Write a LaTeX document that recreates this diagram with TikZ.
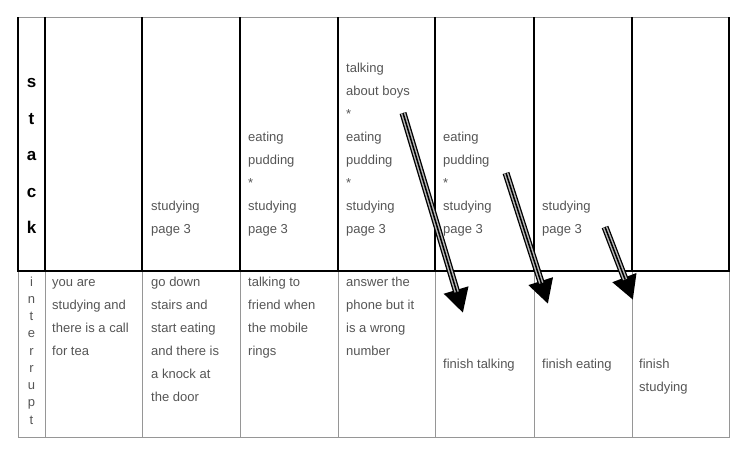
\documentclass[tikz,border=0pt]{standalone}
\usepackage{fontspec}
\setmainfont{Liberation Sans}
\usetikzlibrary{arrows.meta}
\definecolor{textgray}{RGB}{85,85,85}
\definecolor{linegray}{RGB}{150,150,150}
\definecolor{pipegray}{RGB}{185,185,185}

\begin{document}
\begin{tikzpicture}[x=1pt, y=-1pt,
    cell/.style={anchor=base west, align=left, inner sep=0pt, text=textgray, font=\fontsize{13}{23}\selectfont},
    pipe/.style={line width=7pt, -{Triangle[length=24pt, width=24pt]},
        postaction={draw=pipegray, line width=4.4pt, -, shorten >=22pt},
        postaction={draw=black, line width=1.5pt, -, shorten >=22pt}}]
    \useasboundingbox (0,0) rectangle (755,451);

    % Stack row
    \draw[linegray] (18,17) -- (729,17);
    \draw[line width=2pt] (18,17) -- (18,271) (45,17) -- (45,271)
        (142,17) -- (142,271) (240,17) -- (240,271) (338,17) -- (338,271)
        (435,17) -- (435,271) (534,17) -- (534,271) (632,17) -- (632,271)
        (729,17) -- (729,271);

    % Interrupt row
    \draw[linegray] (18,271) -- (18,437) -- (729,437) -- (729,271);
    \draw[linegray] (45,271) -- (45,437) (142,271) -- (142,437)
        (240,271) -- (240,437) (338,271) -- (338,437) (435,271) -- (435,437)
        (534,271) -- (534,437) (632,271) -- (632,437);
    \draw[line width=2pt] (17,271) -- (730,271);

    % Row labels (base = last line)
    \node[font=\fontsize{17}{36.5}\selectfont\bfseries, align=center, inner sep=0pt, anchor=base] (stack) at (31.5,233.5) {s\\t\\a\\c\\k};
    \node[font=\fontsize{13}{17.25}\selectfont, text=textgray, align=center, inner sep=0pt, anchor=base] (interrupt) at (31.5,424) {i\\n\\t\\e\\r\\r\\u\\p\\t};

    % Stack contents
    \node[cell] (s2) at (151,233) {studying\\page 3};
    \node[cell] (s3) at (248,233) {eating\\pudding\\*\\studying\\page 3};
    \node[cell] (s4) at (346,233) {talking\\about boys\\*\\eating\\pudding\\*\\studying\\page 3};
    \node[cell] (s5) at (443,233) {eating\\pudding\\*\\studying\\page 3};
    \node[cell] (s6) at (542,233) {studying\\page 3};

    % Interrupts
    \node[cell] (i1) at (52,355) {you are\\studying and\\there is a call\\for tea};
    \node[cell] (i2) at (151,401) {go down\\stairs and\\start eating\\and there is\\a knock at\\the door};
    \node[cell] (i3) at (248,355) {talking to\\friend when\\the mobile\\rings};
    \node[cell] (i4) at (346,355) {answer the\\phone but it\\is a wrong\\number};
    \node[cell] (i5) at (443,368) {finish talking};
    \node[cell] (i6) at (542,368) {finish eating};
    \node[cell] (i7) at (639,391) {finish\\studying};

    % Pops
    \coordinate (pop1a) at (403,113);
    \coordinate (pop1b) at (463,313);
    \coordinate (pop2a) at (506,173);
    \coordinate (pop2b) at (548,304);
    \coordinate (pop3a) at (605,227);
    \coordinate (pop3b) at (633,300);
    \draw[pipe] (pop1a) -- (pop1b);
    \draw[pipe] (pop2a) -- (pop2b);
    \draw[pipe] (pop3a) -- (pop3b);
\end{tikzpicture}
\end{document}
